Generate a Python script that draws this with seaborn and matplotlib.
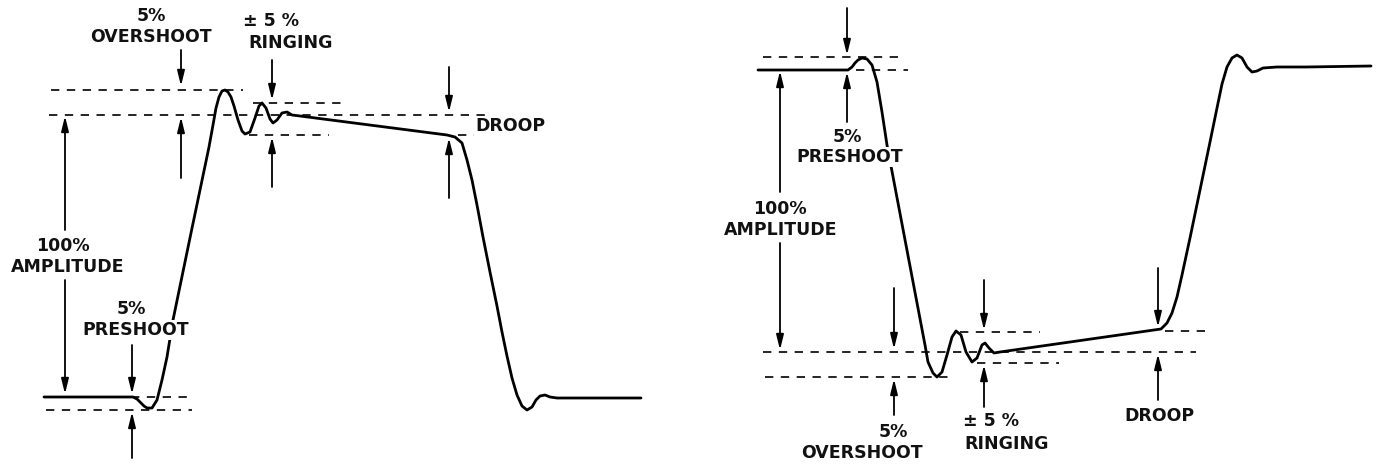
import numpy as np
import pandas as pd
import matplotlib
matplotlib.use("Agg")
import matplotlib.pyplot as plt
import seaborn as sns

# waveform samples (x = time in px, y = level in px, top = 0)
pos_t = [44, 133, 137, 140, 144, 147, 152, 157, 162, 167, 173, 191, 209, 213, 216, 219,
         222, 225, 228, 231, 234, 238, 242, 245, 250, 255, 259, 262, 266, 270, 273, 277,
         282, 287, 292, 300, 447, 455, 462, 467, 472, 477, 483, 490, 497, 502, 507,
         512, 517, 522, 527, 532, 536, 540, 545, 550, 557, 641]
pos_v = [397, 397, 399, 402, 406, 408, 408, 400, 380, 357, 320, 233, 147, 125, 108, 97,
         91, 90, 92, 97, 106, 120, 131, 134, 132, 118, 106, 103, 108, 119, 123, 120,
         113, 112, 115, 116, 135, 137, 143, 160, 180, 205, 237, 272, 306, 332, 356,
         378, 395, 406, 410, 407, 400, 396, 395, 397, 398, 398]

neg_t = [758, 848, 852, 855, 858, 862, 867, 872, 877, 882, 887, 925, 928, 933, 937, 942,
         947, 952, 956, 961, 966, 972, 977, 982, 985, 989, 994, 1000, 1161, 1167, 1172,
         1177, 1182, 1190, 1200, 1210, 1217, 1222, 1227, 1232, 1237, 1242, 1247, 1252,
         1257, 1263, 1277, 1306, 1371]
neg_v = [70, 70, 67, 63, 60, 58, 59, 65, 82, 112, 145, 345, 362, 373, 377, 372,
         355, 337, 331, 335, 352, 362, 358, 345, 343, 348, 353, 352, 329, 323, 313,
         297, 275, 238, 190, 142, 108, 84, 67, 58, 55, 58, 67, 72,
         71, 68, 67, 67, 66]

# reference levels (level, start, end)
pos_levels = [(90, 51, 243), (115, 49, 485), (103, 253, 346), (135, 249, 329),
              (135, 458, 496), (397, 131, 194), (410, 46, 192)]
neg_levels = [(57, 763, 903), (70, 856, 908), (352, 763, 1196), (377, 765, 953),
              (332, 960, 1040), (363, 977, 1059), (331, 1165, 1206)]

# arrows (x, tail y, head y)
arrows = [(181, 50, 86), (181, 178, 117), (272, 60, 100), (272, 187, 137),
          (449, 67, 112), (449, 198, 138), (65, 230, 116), (65, 280, 394),
          (132, 345, 394), (132, 458, 412),
          (847, 8, 55), (847, 122, 72), (780, 192, 71), (780, 243, 350),
          (894, 288, 349), (894, 415, 379), (984, 280, 330), (984, 407, 365),
          (1158, 268, 327), (1158, 400, 354)]

labels = [(151, 16, "5%"), (151, 37, "OVERSHOOT"), (271, 21, "± 5 %"), (291, 43, "RINGING"),
          (510, 126, "DROOP"), (63, 246, "100%"), (68, 267, "AMPLITUDE"),
          (131, 309, "5%"), (136, 330, "PRESHOOT"),
          (847, 137, "5%"), (850, 157, "PRESHOOT"), (780, 209, "100%"), (781, 230, "AMPLITUDE"),
          (893, 432, "5%"), (862, 453, "OVERSHOOT"), (991, 421, "± 5 %"), (1007, 444, "RINGING"),
          (1159, 416, "DROOP")]

sns.set_style("white")
plt.rcParams['font.family'] = ['DejaVu Sans']

df = pd.concat([
    pd.DataFrame({"t": pos_t, "v": pos_v, "pulse": "positive"}),
    pd.DataFrame({"t": neg_t, "v": neg_v, "pulse": "negative"}),
])

fig = plt.figure(figsize=(13.77, 4.65), dpi=100)
ax = fig.add_axes([0, 0, 1, 1])

sns.lineplot(data=df, x="t", y="v", units="pulse", estimator=None, sort=False,
             color="black", lw=2.0, ax=ax)
for ln in ax.lines:
    ln.set_solid_joinstyle("round")

for lev, x0, x1 in pos_levels + neg_levels:
    ax.hlines(lev, x0, x1, colors="black", lw=1.2, linestyles=(0, (5, 4.5)))

for x, y0, y1 in arrows:
    ax.annotate("", xy=(x, y1), xytext=(x, y0),
                arrowprops=dict(arrowstyle="-|>,head_width=0.22,head_length=0.9",
                                color="black", lw=1.3, shrinkA=0, shrinkB=0))

# labels sit on a white patch so the trace is broken behind them, as in the original
for x, y, s in labels:
    ax.text(x, y, s, ha="center", va="center", fontsize=12.5, fontweight="bold",
            color="#111111", zorder=5,
            bbox=dict(facecolor="white", edgecolor="none", pad=0.5))

ax.set_xlim(0, 1377)
ax.set_ylim(465, 0)
ax.set_axis_off()

plt.savefig("out.png", dpi=100, facecolor="white")
